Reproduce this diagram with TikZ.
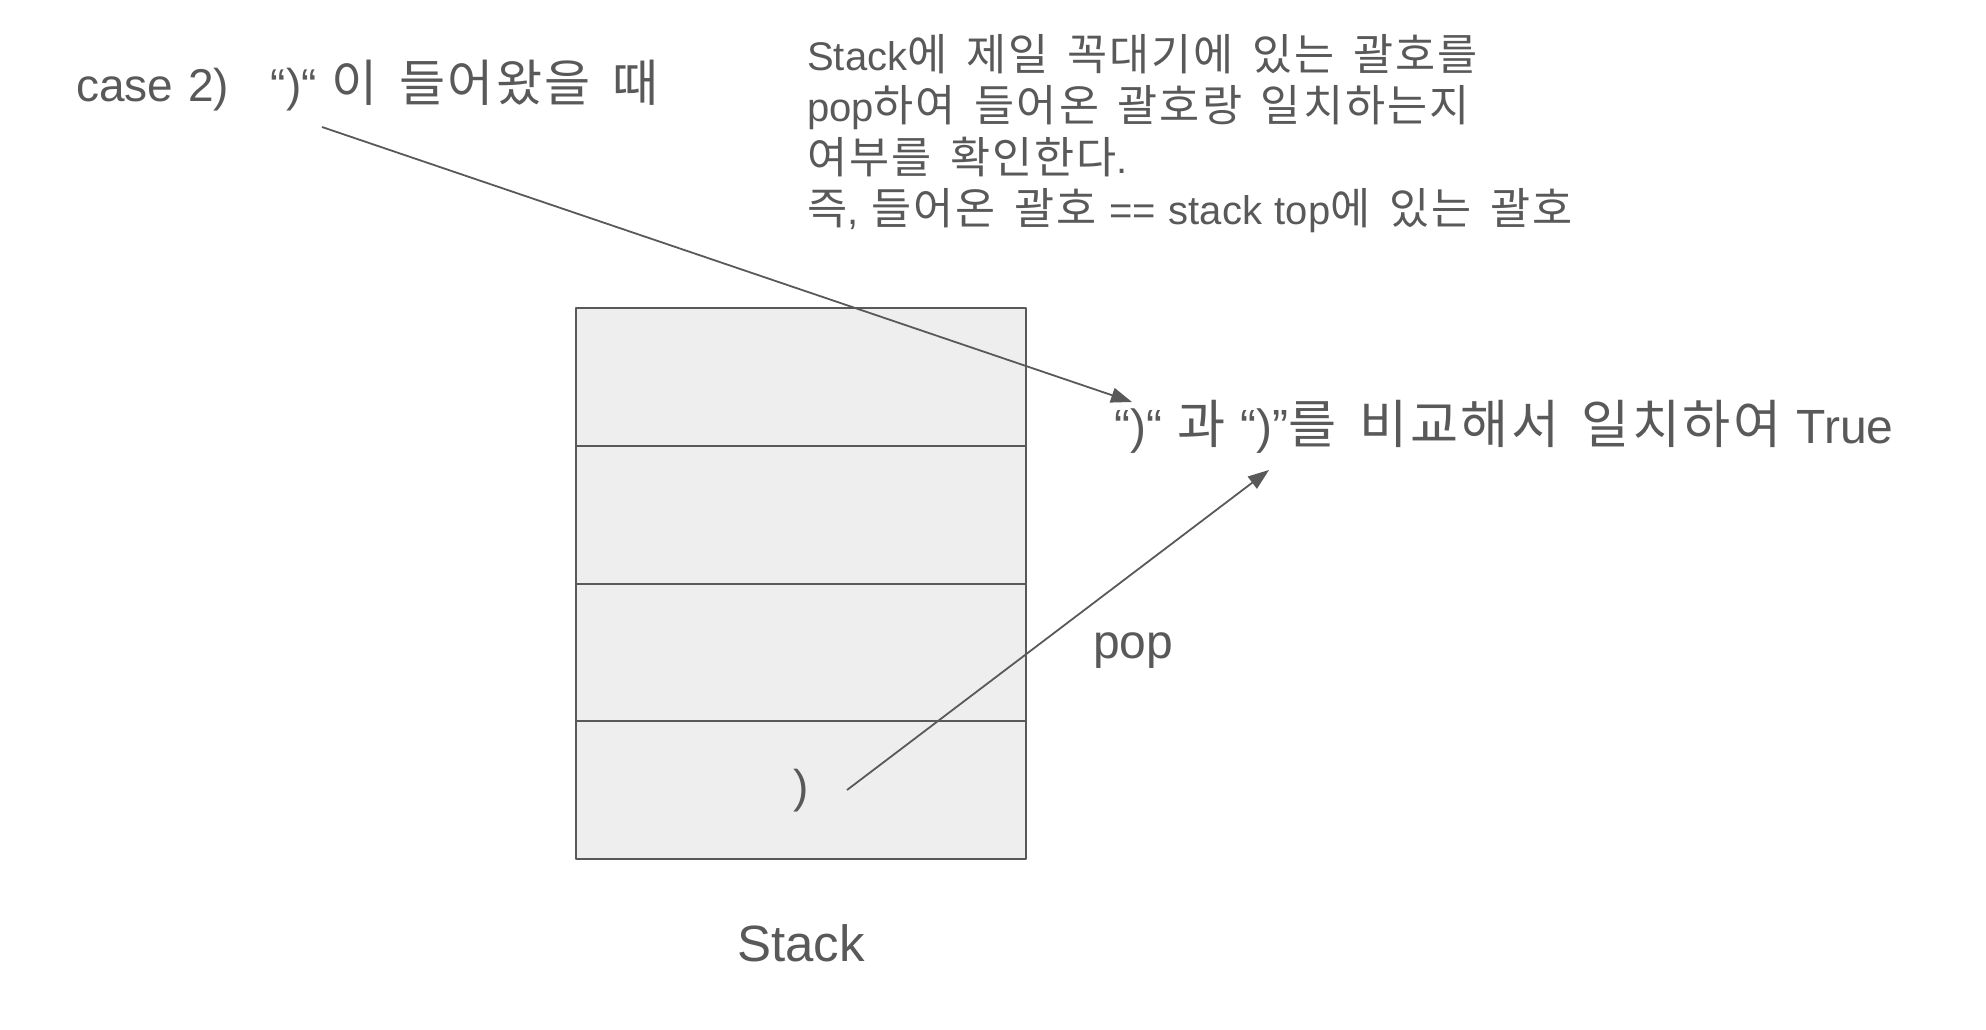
\documentclass[tikz,border=0pt]{standalone}
\usepackage{fontspec}
\setmainfont{Liberation Sans}[WordSpace=1.15]
\newfontfamily\krfont{Noto Sans CJK KR}[Scale=1.09,LetterSpace=4.5,WordSpace=1.6]
% korean runs
\newcommand\kr[1]{{\krfont #1}}
\usepackage{tikz}
\usetikzlibrary{arrows.meta,positioning}
\definecolor{inkgrey}{HTML}{595959}
\definecolor{cellfill}{HTML}{EEEEEE}

\begin{document}
\begin{tikzpicture}[x=1pt,y=-1pt,>={Triangle[length=21pt,width=15pt]},line join=round,
  cell/.style={draw=inkgrey,fill=cellfill,line width=2pt,minimum width=450pt,minimum height=137.75pt,inner sep=0pt},
  txt/.style={text=inkgrey,inner sep=0pt},
  conn/.style={->,draw=inkgrey,line width=1.8pt}]
\useasboundingbox (0,0) rectangle (1986,1030);
% --- stack cells
\foreach \i in {1,...,4} {\node[cell] (cell\i) at (801,{308+137.75*(\i-0.5)}) {};}
\node[txt,font=\fontsize{46}{55}\selectfont] (paren) at (cell4.center) {)};
\node[txt,anchor=base,font=\fontsize{51}{61}\selectfont] (stacklbl) at (801,961) {Stack};
% --- texts
\node[txt,anchor=base west,font=\fontsize{46}{55}\selectfont] (casetxt) at (76,102) {case 2)\hspace{42pt}“)“ \kr{이 들어왔을 때}};
\foreach \txt [count=\i] in {{Stack\kr{에 제일 꼭대기에 있는 괄호를}},{pop\kr{하여 들어온 괄호랑 일치하는지}},{\kr{여부를 확인한다}.},{\kr{즉}, \kr{들어온 괄호} == stack top\kr{에 있는 괄호}}}
  {\node[txt,anchor=base west,font=\fontsize{40}{51}\selectfont] (note\i) at (807,{71+51*(\i-1)}) {\txt};}
\node[txt,anchor=base west,font=\fontsize{48}{57}\selectfont] (cmptxt) at (1114,443) {“)“ \kr{과} “)”\kr{를 비교해서 일치하여} True};
\node[txt,anchor=base west,font=\fontsize{48}{58}\selectfont] (poptxt) at (1093,658) {pop};
% --- arrows
\coordinate (caseTail) at (322,127);
\coordinate (cmpHead) at (1132,402);
\draw[conn] (caseTail) -- (cmpHead);
\coordinate (popTail) at (847,790);
\coordinate (popHead) at (1269,470);
\draw[conn] (popTail) -- (popHead);
\end{tikzpicture}
\end{document}
